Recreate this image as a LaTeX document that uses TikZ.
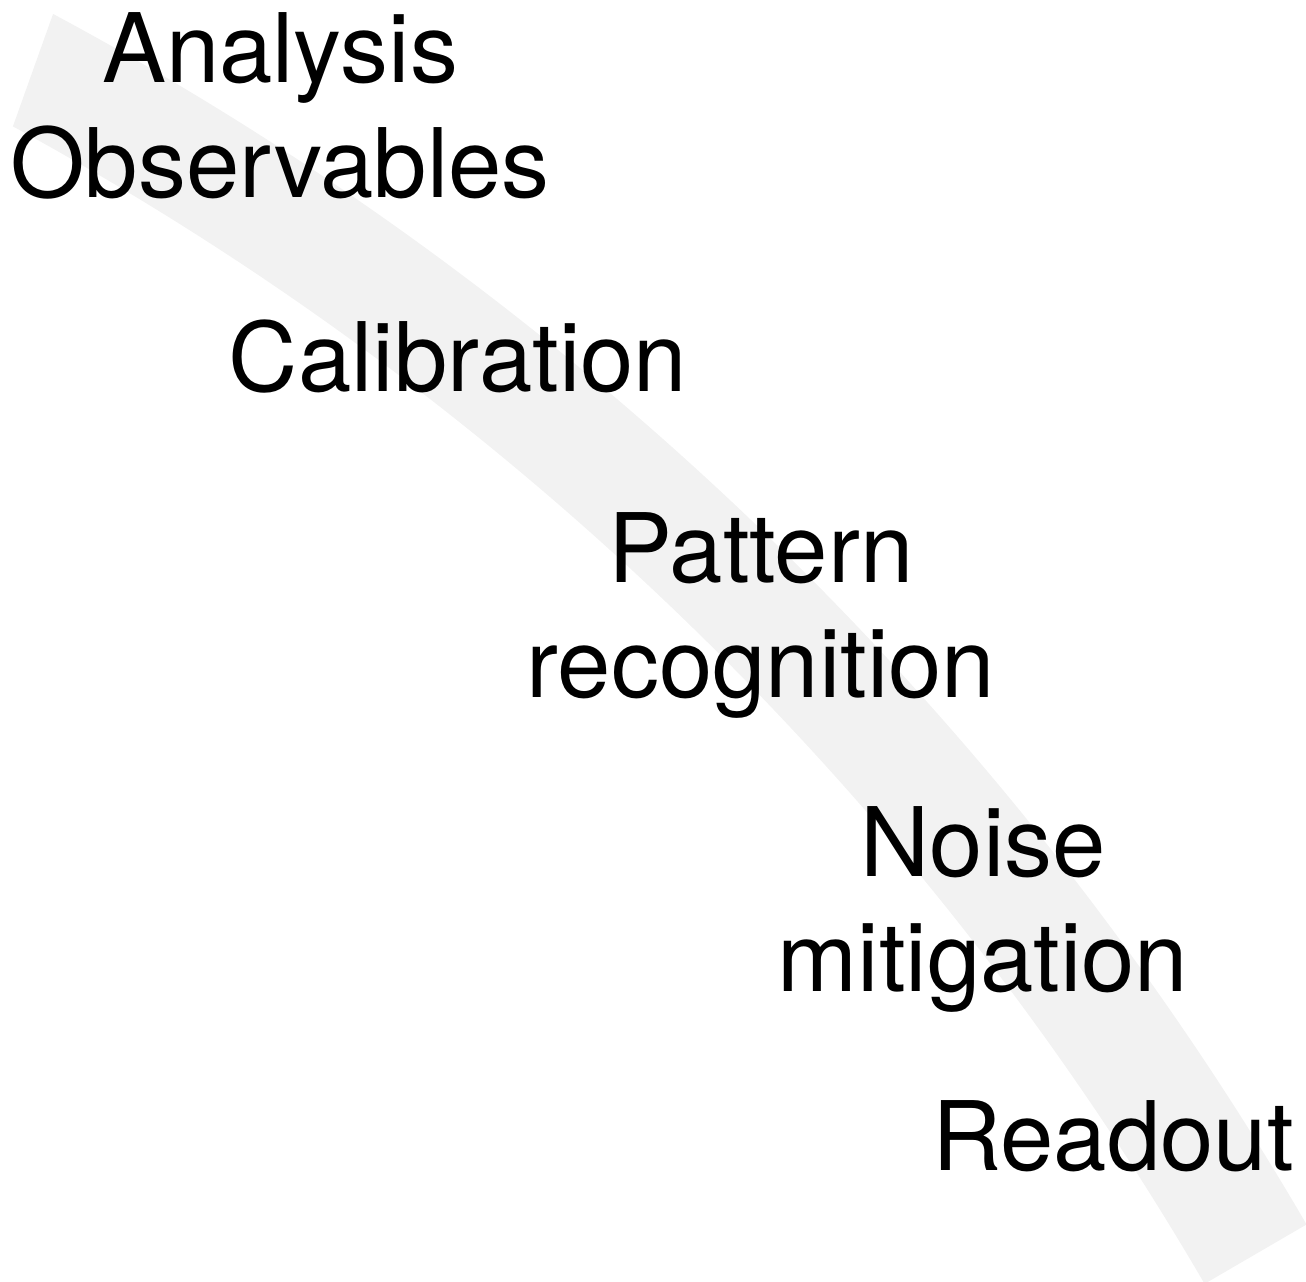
\documentclass[tikz,border=0pt]{standalone}
\usepackage{fontspec}
\setmainfont{TeX Gyre Heros}
\definecolor{bandgray}{RGB}{242,242,242}
\tikzset{
  label text/.style={align=center, anchor=base, inner sep=0pt, font=\fontsize{27.3}{32.6}\selectfont, text=black},
}
\begin{document}
\begin{tikzpicture}
\useasboundingbox (0,0) rectangle (13.06,-12.81);
\clip (0,0) rectangle (13.06,-12.81);
\coordinate (C) at (-14.59,-28.34);
\fill[bandgray] ([shift={(C)}]61.8:32) arc[start angle=61.8, end angle=30.2, radius=32]
  -- ([shift={(C)}]30.2:30.82) arc[start angle=30.2, end angle=61.47, radius=30.82] -- cycle;
\node[label text] (analysis) at (2.80,-1.97) {Analysis\\Observables};
\node[label text] (calib) at (4.58,-3.91) {Calibration};
\node[label text] (pattern) at (7.61,-6.97) {Pattern\\recognition};
\node[label text] (noise) at (9.83,-9.91) {Noise\\mitigation};
\node[label text] (readout) at (11.13,-11.70) {Readout};
\end{tikzpicture}
\end{document}
